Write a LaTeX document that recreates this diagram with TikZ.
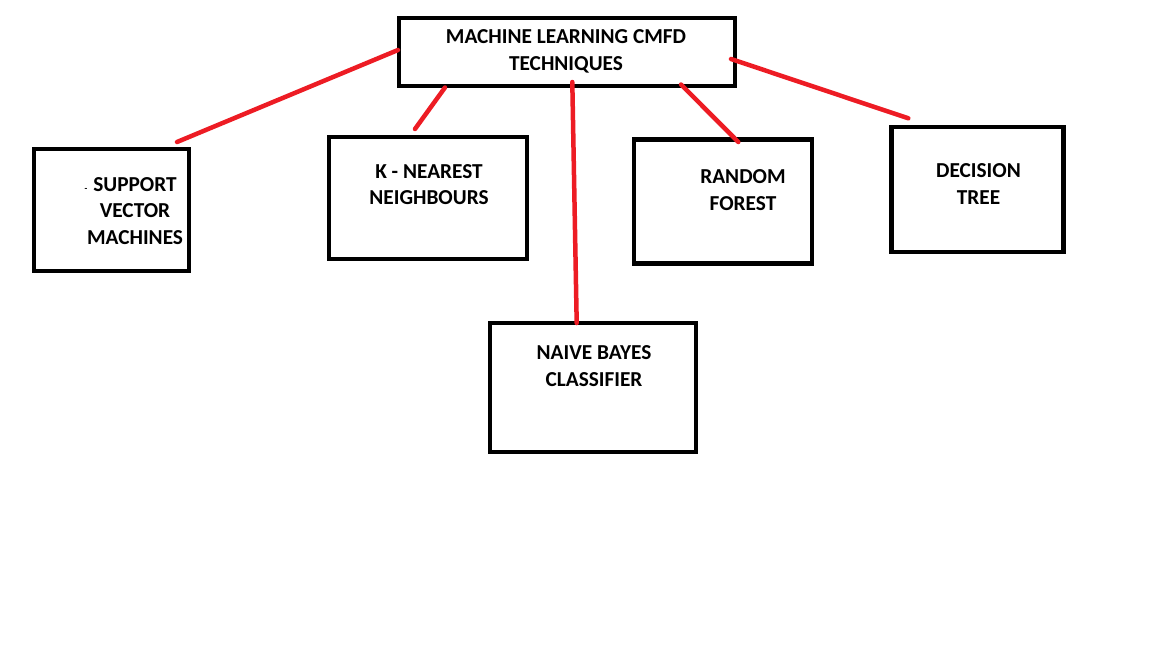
\documentclass[tikz,border=0pt]{standalone}
\usepackage{fontspec}
\setmainfont{Carlito}
\usetikzlibrary{positioning}
\definecolor{paintred}{RGB}{237,28,36}
\tikzset{
  box/.style={draw=black, line width=4.6pt, inner sep=0pt},
  caption/.style={font=\bfseries\fontsize{21.3}{26.5}\selectfont, align=center, inner sep=0pt},
  link/.style={draw=paintred, line width=4.5pt, line cap=round}
}
\begin{document}
\begin{tikzpicture}[x=1pt,y=-1pt]
\useasboundingbox (0,0) rectangle (1152,648);
% boxes
\node[box, minimum width=336pt, minimum height=68pt] (root) at (567,52) {};
\node[box, minimum width=155pt, minimum height=122pt] (svm) at (111.5,210) {};
\node[box, minimum width=198pt, minimum height=122pt] (knn) at (428,198) {};
\node[box, minimum width=206pt, minimum height=129pt] (nb) at (593,387.5) {};
\node[box, minimum width=178pt, minimum height=124pt] (rf) at (723,201.5) {};
\node[box, minimum width=172pt, minimum height=125pt] (dt) at (977.5,189.5) {};
% texts
\node[caption] (root-text) at (566,51.5) {MACHINE LEARNING CMFD\\TECHNIQUES};
\node[caption] (svm-text) at (135,211) {\llap{\fontsize{9}{9}\selectfont -\hspace{6pt}}SUPPORT\\VECTOR\\MACHINES};
\node[caption] (knn-text) at (429,184.5) {K - NEAREST\\NEIGHBOURS};
\node[caption] (nb-text) at (594,366) {NAIVE BAYES\\CLASSIFIER};
\node[caption] (rf-text) at (743,190) {RANDOM\\FOREST};
\node[caption] (dt-text) at (978.5,184) {DECISION\\TREE};
% red strokes
\coordinate (root-svm) at (398,50);
\coordinate (svm-tip) at (177,142);
\coordinate (root-knn) at (445,87.5);
\coordinate (knn-tip) at (415,129);
\coordinate (root-nb) at (572.3,82);
\coordinate (nb-tip) at (576.7,323);
\coordinate (root-rf) at (681,84.5);
\coordinate (rf-tip) at (738.3,142);
\coordinate (root-dt) at (731,59);
\coordinate (dt-tip) at (908.3,118.3);
\draw[link] (root-svm) -- (svm-tip);
\draw[link] (root-knn) -- (knn-tip);
\draw[link] (root-nb) -- (nb-tip);
\draw[link] (root-rf) -- (rf-tip);
\draw[link] (root-dt) -- (dt-tip);
\end{tikzpicture}
\end{document}
